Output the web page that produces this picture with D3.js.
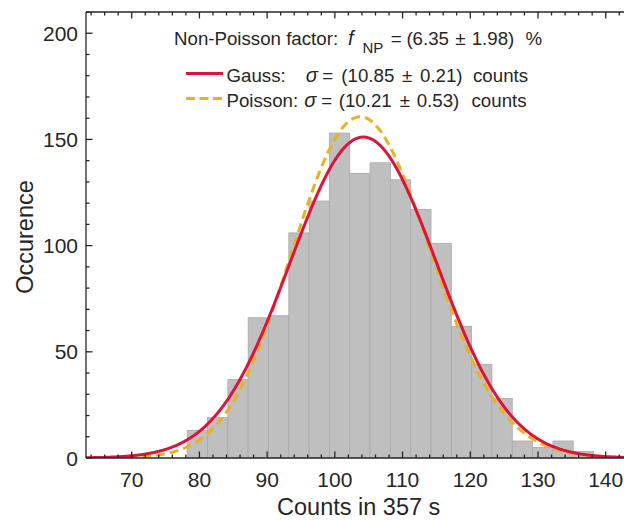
<!DOCTYPE html>
<html>
<head>
<meta charset="utf-8">
<script src="https://cdn.jsdelivr.net/npm/d3@7"></script>
<style>
  html, body { margin: 0; padding: 0; background: #fff; }
  svg { display: block; }
  text { font-family: "Liberation Sans", Arial, Helvetica, sans-serif; fill: #262626; }
</style>
</head>
<body>
<svg id="chart" width="624" height="520"></svg>
<script>
// ---------- data ----------
const binEdges = [78.2, 81.2, 84.2, 87.2, 90.2, 93.2, 96.2, 99.2, 102.2, 105.2,
                  108.2, 111.2, 114.2, 117.2, 120.2, 123.2, 126.2, 129.2, 132.2, 135.2, 138.2];
const binCounts = [13, 19, 37, 66, 67, 106, 121, 153, 134, 139,
                   131, 117, 101, 62, 44, 28, 8, 5, 8, 3];
// fit parameters (area = N * binWidth)
const fitArea = [4110];
const gaussFit = [104.2, 10.85];      // mu, sigma
const poissonFit = [104.24];          // lambda (sigma = 10.21)
const xTicks = [70, 80, 90, 100, 110, 120, 130, 140];
const yTicks = [0, 50, 100, 150, 200];
const xLabel = "Counts in 357 s";
const yLabel = "Occurence";
const nonPoisson = ["6.35", "1.98"];
const gaussSigma = ["10.85", "0.21"];
const poissonSigma = ["10.21", "0.53"];

// ---------- layout ----------
const mLeft = 86, mTop = 12, mBottom = 458;
const xDomain = [63.25, 143.5];
const x = d3.scaleLinear().domain([70, 140]).range([131.7, 605.7]);
const mRight = x(xDomain[1]);
x.domain([xDomain[0], xDomain[1]]).range([mLeft, mRight]);
const y = d3.scaleLinear().domain([0, 210]).range([mBottom, mTop]);

const svg = d3.select("#chart");
const axisColor = "#262626";

svg.append("defs").append("clipPath").attr("id", "clip")
  .append("rect").attr("x", mLeft).attr("y", mTop).attr("width", mRight - mLeft).attr("height", mBottom - mTop);

const plot = svg.append("g").attr("clip-path", "url(#clip)");

// bars
const bins = binCounts.map((c, i) => ({x0: binEdges[i], x1: binEdges[i + 1], c}));
plot.selectAll("rect.bar").data(bins).join("rect")
  .attr("class", "bar")
  .attr("x", d => x(d.x0))
  .attr("width", d => x(d.x1) - x(d.x0))
  .attr("y", d => y(d.c))
  .attr("height", d => y(0) - y(d.c))
  .attr("fill", "#bfbfbf")
  .attr("stroke", "#a9a9a9")
  .attr("stroke-width", 0.8);

// curves
function lnGamma(z) {
  return (z - 0.5) * Math.log(z) - z + 0.5 * Math.log(2 * Math.PI) + 1 / (12 * z) - 1 / (360 * z * z * z);
}
const xs = d3.range(xDomain[0], xDomain[1] + 0.1, 0.1);
const gaussPts = xs.map(v => [v, fitArea[0] / (Math.sqrt(2 * Math.PI) * gaussFit[1]) *
  Math.exp(-0.5 * Math.pow((v - gaussFit[0]) / gaussFit[1], 2))]);
const lam = poissonFit[0];
const poisPts = xs.map(v => [v, fitArea[0] * Math.exp(v * Math.log(lam) - lam - lnGamma(v + 1))]);

const line = d3.line().x(d => x(d[0])).y(d => y(d[1])).curve(d3.curveLinear);
const red = "#dc143c", yellow = "#edb120";
plot.append("path").attr("d", line(poisPts)).attr("fill", "none")
  .attr("stroke", yellow).attr("stroke-width", 3).attr("stroke-dasharray", "9,5");
plot.append("path").attr("d", line(gaussPts)).attr("fill", "none")
  .attr("stroke", red).attr("stroke-width", 3);

// ---------- axes ----------
const axes = svg.append("g").attr("stroke", axisColor).attr("stroke-width", 1.3);
axes.append("line").attr("x1", mLeft).attr("x2", mRight).attr("y1", mBottom).attr("y2", mBottom);
axes.append("line").attr("x1", mLeft).attr("x2", mRight).attr("y1", mTop).attr("y2", mTop);
axes.append("line").attr("x1", mLeft).attr("x2", mLeft).attr("y1", mTop).attr("y2", mBottom);

const xMinor = d3.range(64, 144, 2);
xMinor.forEach(v => {
  const major = v % 10 === 0;
  const len = major ? 6.5 : 3.5;
  axes.append("line").attr("x1", x(v)).attr("x2", x(v)).attr("y1", mBottom).attr("y2", mBottom - len);
  axes.append("line").attr("x1", x(v)).attr("x2", x(v)).attr("y1", mTop).attr("y2", mTop + len);
});
const yMinor = d3.range(0, 211, 10);
yMinor.forEach(v => {
  const major = v % 50 === 0;
  const len = major ? 6.5 : 3.5;
  axes.append("line").attr("x1", mLeft).attr("x2", mLeft + len).attr("y1", y(v)).attr("y2", y(v));
});

// tick labels
svg.append("g").selectAll("text").data(xTicks).join("text")
  .attr("x", d => x(d)).attr("y", 487)
  .attr("text-anchor", "middle").attr("font-size", 21)
  .text(d => d);
svg.append("g").selectAll("text").data(yTicks).join("text")
  .attr("x", mLeft - 8).attr("y", d => y(d)).attr("dy", "0.36em")
  .attr("text-anchor", "end").attr("font-size", 21)
  .text(d => d);

// axis labels
svg.append("text").attr("x", (mLeft + mRight) / 2 + 1).attr("y", 515)
  .attr("text-anchor", "middle").attr("font-size", 23.5).text(xLabel);
svg.append("text").attr("transform", `translate(33,${(mTop + mBottom) / 2 + 2}) rotate(-90)`)
  .attr("text-anchor", "middle").attr("font-size", 23.5).text(yLabel);

// ---------- annotation / legend ----------
const fs = 18.7;
const serif = "'Liberation Serif', 'DejaVu Serif', serif";
const annot = svg.append("g");
function seg(yBase, s) {
  const t = annot.append("text")
    .attr("x", s.x).attr("y", yBase + (s.sub ? 7.5 : 0))
    .attr("text-anchor", s.a || "start")
    .attr("font-size", s.sub ? 15 : (s.serif ? 20 : fs))
    .text(s.t);
  if (s.italic) t.attr("font-style", "italic");
  if (s.serif) t.attr("font-family", serif);
}
[
  {t: "Non-Poisson factor:", x: 174},
  {t: "f", x: 348, italic: true, serif: true},
  {t: "NP", x: 362.5, sub: true},
  {t: "=", x: 396.2, a: "middle"},
  {t: "(" + nonPoisson[0], x: 449, a: "end"},
  {t: "\u00b1", x: 460.5, a: "middle"},
  {t: nonPoisson[1] + ")", x: 471.7},
  {t: "%", x: 525.5}
].forEach(s => seg(45, s));

const legend = [
  {label: "Gauss:", vals: gaussSigma, color: red, dash: null, y: 81.5,
   xs: [311.7, 327.8, 394.3, 407.2, 420, 473]},
  {label: "Poisson:", vals: poissonSigma, color: yellow, dash: "9,4.5", y: 106.5,
   xs: [310.4, 326.7, 391.7, 405, 416.7, 471.5]}
];
legend.forEach(l => {
  annot.append("line").attr("x1", 186).attr("x2", 223).attr("y1", l.y - 8).attr("y2", l.y - 8)
    .attr("stroke", l.color).attr("stroke-width", 3).attr("stroke-dasharray", l.dash);
  [
    {t: l.label, x: 226.5},
    {t: "\u03c3", x: l.xs[0], a: "middle", italic: true, serif: true},
    {t: "=", x: l.xs[1], a: "middle"},
    {t: "(" + l.vals[0], x: l.xs[2], a: "end"},
    {t: "\u00b1", x: l.xs[3], a: "middle"},
    {t: l.vals[1] + ")", x: l.xs[4]},
    {t: "counts", x: l.xs[5]}
  ].forEach(s => seg(l.y, s));
});
</script>
</body>
</html>
